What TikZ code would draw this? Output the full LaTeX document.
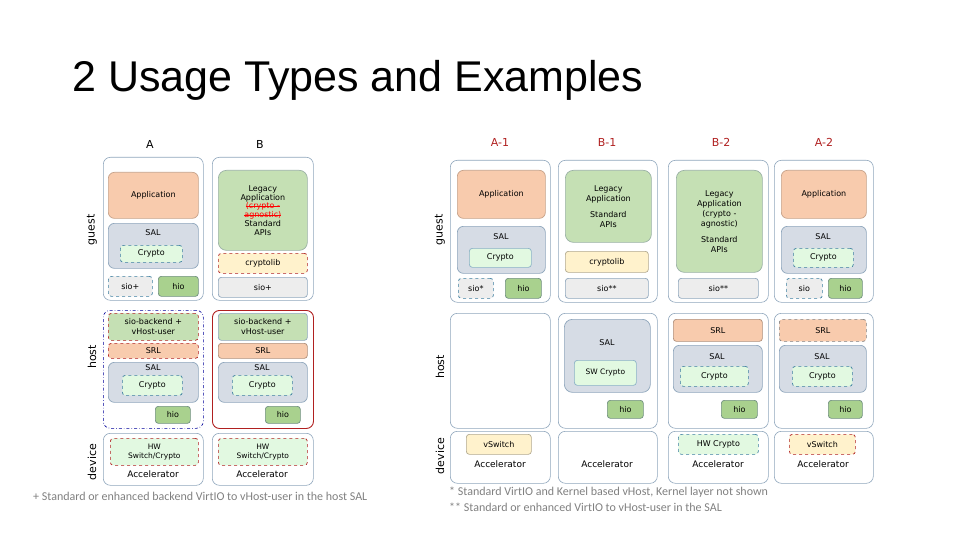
\documentclass[tikz,border=0pt]{standalone}
\usepackage{fontspec}
\setmainfont{DejaVu Sans}
\newfontfamily\titlefont{Liberation Sans}
\newfontfamily\notefont{Carlito}
\newcommand\strk[1]{\leavevmode\setbox0\hbox{#1}\rlap{\rule[0.45ex]{\wd0}{0.6pt}}\box0}
\definecolor{obord}{HTML}{8FA6BC}
\definecolor{appc}{HTML}{F8CBAD}
\definecolor{salc}{HTML}{D6DCE5}
\definecolor{cryc}{HTML}{E2F9E1}
\definecolor{cryb}{HTML}{3E7FA0}
\definecolor{hioc}{HTML}{A9D18E}
\definecolor{legc}{HTML}{C5E0B4}
\definecolor{clibc}{HTML}{FFF2CC}
\definecolor{sioc}{HTML}{EDEDED}
\definecolor{dred}{HTML}{B02020}
\definecolor{gborder}{HTML}{6F8F7F}
\definecolor{notec}{HTML}{808080}
\newcommand\Bx[7][]{\node[anchor=north west,minimum width={(#5-#3)*1pt},minimum height={(#6-#4)*1pt},inner sep=1pt,align=center,rounded corners=3pt,font=\fontsize{8}{10}\selectfont,line width=0.7pt,#1] (#2) at (#3,#4) {#7};}
\tikzset{
 outer/.style={draw=obord,line width=0.6pt,rounded corners=7pt},
 app/.style={fill=appc,draw=appc!80!black,rounded corners=6pt},
 sal/.style={fill=salc,draw=obord,rounded corners=6pt},
 cry/.style={fill=cryc,draw=cryb,dashed},
 crys/.style={fill=cryc,draw=cryb!60},
 hio/.style={fill=hioc,draw=gborder},
 leg/.style={fill=legc,draw=gborder!70,rounded corners=8pt},
 clib/.style={fill=clibc,draw=clibc!70!black},
 clibr/.style={fill=clibc,draw=dred,dashed},
 sio/.style={fill=sioc,draw=obord},
 siod/.style={fill=sioc,draw=cryb,dashed},
 sb/.style={fill=legc,draw=dred,dashed},
 srlr/.style={fill=appc,draw=dred,dashed},
 srl/.style={fill=appc,draw=appc!70!black},
 srlg/.style={fill=appc,draw=gray,dashed},
 hw/.style={fill=cryc,draw=dred,dashed},
 lbl/.style={font=\fontsize{8}{10}\selectfont},
 acc/.style={font=\fontsize{9}{11}\selectfont},
 side/.style={rotate=90,font=\fontsize{11}{12}\selectfont},
 colh/.style={font=\fontsize{11}{12}\selectfont},
 note/.style={font=\notefont\fontsize{12}{14}\selectfont,text=notec,anchor=west,inner sep=0pt}
}
\begin{document}
\begin{tikzpicture}[x=1pt,y=-1pt]
\useasboundingbox (0,0) rectangle (960,540);
\node[anchor=west,inner sep=0pt,font=\titlefont\fontsize{43}{48}\selectfont] (title) at (72,80) {2 Usage Types and Examples};
% side labels
\node[side] (g1) at (92,230) {guest};
\node[side] (h1) at (92,357) {host};
\node[side] (d1) at (92,462) {device};
\node[side] (g2) at (440,230) {guest};
\node[side] (h2) at (440,367) {host};
\node[side] (d2) at (440,456) {device};
% column heads
\node[colh] (hA) at (150,144) {A};
\node[colh] (hB) at (260,144) {B};
\node[colh,text=dred] (hA1) at (500,142) {A-1};
\node[colh,text=dred] (hB1) at (607,142) {B-1};
\node[colh,text=dred] (hB2) at (721,142) {B-2};
\node[colh,text=dred] (hA2) at (824,142) {A-2};
% ===== Left A guest
\Bx[outer]{oAg}{103}{157}{203}{300}{}
\Bx[app]{appA}{108}{172}{198}{218}{Application}
\Bx[sal]{salA}{108}{223}{198}{268}{}
\node[lbl] (salAt) at (153,233) {SAL};
\Bx[cry]{cryA}{120}{245}{182}{262}{Crypto}
\Bx[siod]{sioA}{108}{276}{152}{296}{sio+}
\Bx[hio]{hioA}{158}{276}{198}{296}{hio}
% B guest
\Bx[outer]{oBg}{212}{157}{313}{300}{}
\Bx[leg,font=\fontsize{8}{8.8}\selectfont]{legB}{218}{170}{307}{250}{Legacy\\Application\\\textcolor{red}{\strk{(crypto -}}\\\textcolor{red}{\strk{agnostic)}}\\Standard\\APIs}
\Bx[clibr]{clibB}{218}{253}{307}{273}{cryptolib}
\Bx[sio]{sioB}{218}{277}{307}{297}{sio+}
% A host
\Bx[outer,draw=blue!60!black,dash dot]{oAh}{103}{310}{203}{428}{}
\Bx[sb]{sbA}{108}{313}{198}{340}{sio-backend +\\vHost-user}
\Bx[srlr]{srlA}{108}{343}{198}{358}{SRL}
\Bx[sal]{salAh}{108}{362}{198}{402}{}
\node[lbl] (salAht) at (153,368) {SAL};
\Bx[cry]{cryAh}{122}{375}{182}{395}{Crypto}
\Bx[hio]{hioAh}{155}{406}{190}{423}{hio}
% B host
\Bx[outer,draw=dred,line width=0.9pt]{oBh}{212}{310}{313}{428}{}
\Bx[fill=legc,draw=obord]{sbB}{218}{313}{307}{340}{sio-backend +\\vHost-user}
\Bx[srl]{srlB}{218}{343}{307}{358}{SRL}
\Bx[sal]{salBh}{218}{362}{307}{402}{}
\node[lbl] (salBht) at (262,368) {SAL};
\Bx[cry]{cryBh}{232}{375}{292}{395}{Crypto}
\Bx[hio]{hioBh}{265}{406}{300}{423}{hio}
% devices left
\Bx[outer]{oAd}{103}{433}{203}{485}{}
\Bx[hw,font=\fontsize{7.5}{9}\selectfont]{hwA}{110}{438}{198}{465}{HW\\Switch/Crypto}
\node[acc] (accA) at (153,474) {Accelerator};
\Bx[outer]{oBd}{212}{433}{313}{485}{}
\Bx[hw,font=\fontsize{7.5}{9}\selectfont]{hwB}{218}{438}{307}{465}{HW\\Switch/Crypto}
\node[acc] (accB) at (262,474) {Accelerator};
\node[note] (n0) at (33,496) {+ Standard or enhanced backend VirtIO to vHost-user in the host SAL};
% ===== Right A-1 guest
\Bx[outer]{oA1g}{450}{160}{550}{302}{}
\Bx[app]{appA1}{457}{170}{545}{218}{Application}
\Bx[sal]{salA1}{457}{226}{545}{273}{}
\node[lbl] (salA1t) at (501,237) {SAL};
\Bx[crys]{cryA1}{469}{248}{531}{267}{Crypto}
\Bx[siod]{sioA1}{458}{278}{493}{298}{sio*}
\Bx[hio]{hioA1}{505}{278}{541}{298}{hio}
% B-1 guest
\Bx[outer]{oB1g}{558}{160}{657}{302}{}
\Bx[leg]{legB1}{565}{170}{651}{242}{Legacy\\Application\\[6pt]Standard\\APIs}
\Bx[clib]{clibB1}{565}{251}{648}{272}{cryptolib}
\Bx[sio]{sioB1}{565}{278}{648}{298}{sio**}
% B-2 guest
\Bx[outer]{oB2g}{668}{160}{768}{302}{}
\Bx[leg]{legB2}{676}{170}{762}{272}{Legacy\\Application\\(crypto -\\agnostic)\\[6pt]Standard\\APIs}
\Bx[sio]{sioB2}{678}{278}{758}{298}{sio**}
% A-2 guest
\Bx[outer]{oA2g}{774}{160}{873}{302}{}
\Bx[app]{appA2}{781}{170}{866}{218}{Application}
\Bx[sal]{salA2}{781}{226}{866}{273}{}
\node[lbl] (salA2t) at (823,237) {SAL};
\Bx[cry]{cryA2}{793}{248}{853}{267}{Crypto}
\Bx[siod]{sioA2}{786}{278}{822}{298}{sio}
\Bx[hio]{hioA2}{828}{278}{862}{298}{hio}
% host right
\Bx[outer]{oA1h}{450}{313}{550}{428}{}
\Bx[outer]{oB1h}{558}{313}{657}{428}{}
\Bx[sal,rounded corners=8pt]{salB1}{564}{319}{650}{392}{}
\node[lbl] (salB1t) at (607,343) {SAL};
\Bx[crys,font=\fontsize{7.5}{9}\selectfont]{cryB1}{574}{360}{636}{385}{SW Crypto}
\Bx[hio]{hioB1}{607}{400}{643}{418}{hio}
\Bx[outer]{oB2h}{668}{313}{768}{428}{}
\Bx[srl]{srlB2}{673}{319}{762}{341}{SRL}
\Bx[sal]{salB2}{673}{345}{762}{392}{}
\node[lbl] (salB2t) at (717,357) {SAL};
\Bx[cry]{cryB2}{680}{366}{748}{386}{Crypto}
\Bx[hio]{hioB2}{721}{400}{757}{418}{hio}
\Bx[outer]{oA2h}{774}{313}{873}{428}{}
\Bx[srlg]{srlA2}{779}{319}{866}{341}{SRL}
\Bx[sal]{salA2h}{779}{345}{866}{392}{}
\node[lbl] (salA2ht) at (822,357) {SAL};
\Bx[cry]{cryA2h}{792}{366}{852}{386}{Crypto}
\Bx[hio]{hioA2h}{828}{400}{862}{418}{hio}
% devices right
\Bx[outer]{oA1d}{450}{431}{550}{483}{}
\Bx[clib]{vsA1}{466}{434}{531}{454}{vSwitch}
\node[acc] (accA1) at (500,464) {Accelerator};
\Bx[outer]{oB1d}{558}{431}{657}{483}{}
\node[acc] (accB1) at (607,464) {Accelerator};
\Bx[outer]{oB2d}{668}{431}{768}{483}{}
\Bx[cry]{hwB2}{678}{434}{758}{454}{HW Crypto}
\node[acc] (accB2) at (718,464) {Accelerator};
\Bx[outer]{oA2d}{774}{431}{873}{483}{}
\Bx[clibr]{vsA2}{789}{434}{855}{454}{vSwitch}
\node[acc] (accA2) at (823,464) {Accelerator};
\node[note] (n1) at (449,492) {* Standard VirtIO and Kernel based vHost, Kernel layer not shown};
\node[note] (n2) at (449,507) {** Standard or enhanced VirtIO to vHost-user in the SAL};
\end{tikzpicture}
\end{document}
